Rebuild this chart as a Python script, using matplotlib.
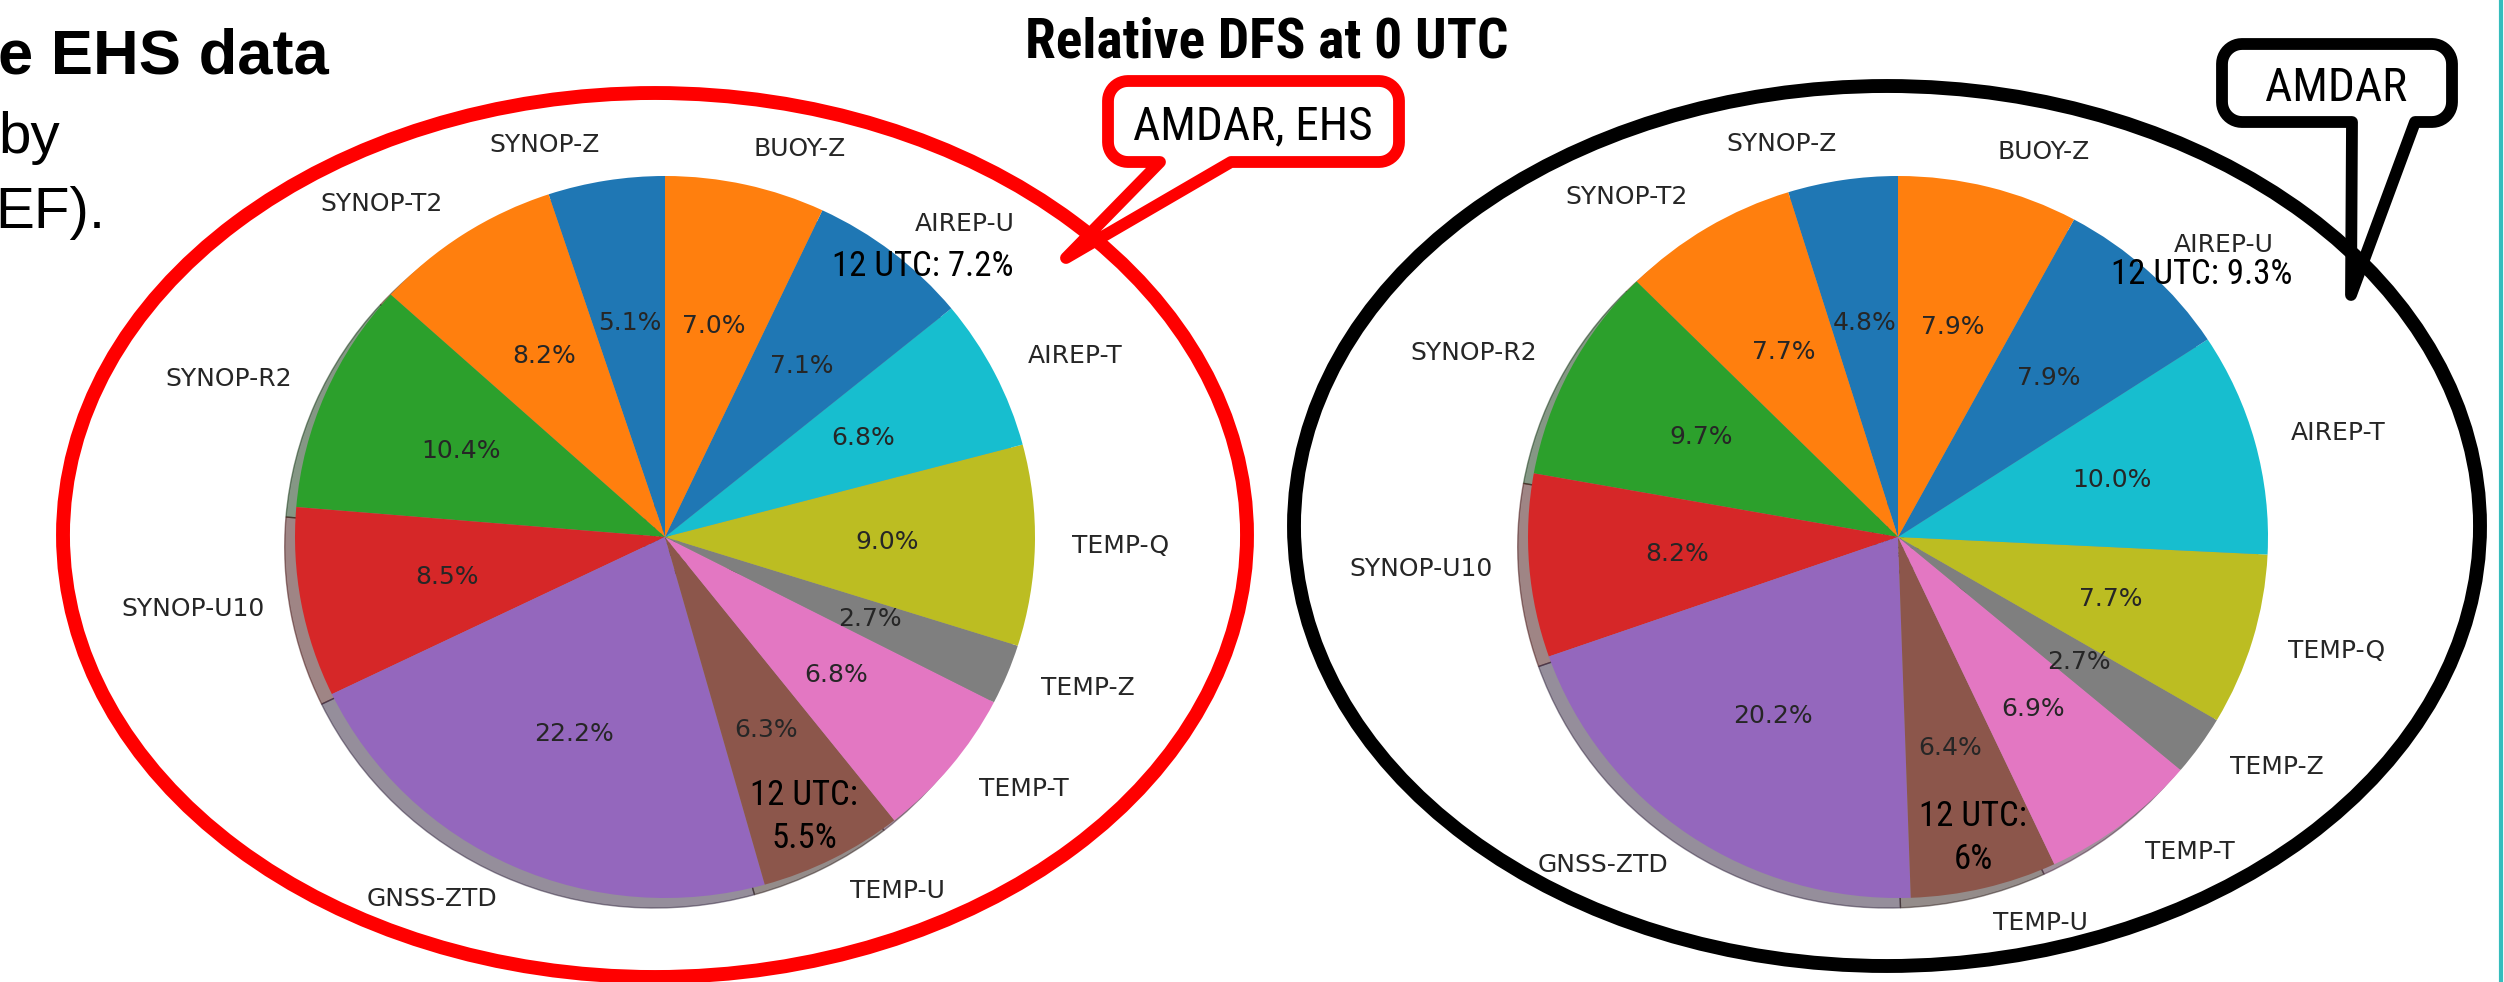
import numpy as np
import matplotlib
matplotlib.use("Agg")
import matplotlib.pyplot as plt
from matplotlib import font_manager
from matplotlib.patches import Ellipse, Polygon

# Observation types, counter-clockwise from 12 o'clock
labels = ['SYNOP-Z', 'SYNOP-T2', 'SYNOP-R2', 'SYNOP-U10', 'GNSS-ZTD', 'TEMP-U',
          'TEMP-T', 'TEMP-Z', 'TEMP-Q', 'AIREP-T', 'AIREP-U', 'BUOY-Z']

# Relative DFS at 0 UTC (%)
dfs_amdar_ehs = [5.1, 8.2, 10.4, 8.5, 22.2, 6.3, 6.8, 2.7, 9.0, 6.8, 7.1, 7.0]
dfs_amdar = [4.8, 7.7, 9.7, 8.2, 20.2, 6.4, 6.9, 2.7, 7.7, 10.0, 7.9, 7.9]

# 12 UTC values written over the pies
utc12_airep_u = ['12 UTC: 7.2%', '12 UTC: 9.3%']
utc12_temp_u = ['12 UTC:\n5.5%', '12 UTC:\n6%']

W, H = 2504, 982
fig = plt.figure(figsize=(W / 100, H / 100), dpi=100)
fig.patch.set_facecolor('white')

ARIAL = ['Liberation Sans', 'DejaVu Sans']
# narrow font for the slide annotations (Arial Narrow look); if none is
# installed use Liberation Sans a bit smaller so the widths stay right
installed = {f.name for f in font_manager.fontManager.ttflist}
narrow = next((n for n in ['Liberation Sans Narrow', 'Arial Narrow', 'Roboto Condensed',
                           'Open Sans Condensed', 'DejaVu Sans Condensed'] if n in installed), None)
if narrow:
    NARROW, k = [narrow, 'Liberation Sans'], 1.0
else:
    NARROW, k = ARIAL, 0.83

RX, RY = 370, 361  # pie radius in pixels (the slide image was squeezed a bit)


def pie_axes(cx, cy):
    w, h = 2.5 * RX, 2.5 * RY
    return fig.add_axes([(cx - w / 2) / W, (H - cy - h / 2) / H, w / W, h / H])


for vals, cx in [(dfs_amdar_ehs, 665), (dfs_amdar, 1898)]:
    ax = pie_axes(cx, 537)
    ax.pie(vals, labels=labels, autopct='%1.1f%%', startangle=90, shadow=True,
           textprops={'fontsize': 18, 'color': '#262626'})
    ax.set_aspect('auto')
    ax.set_xlim(-1.25, 1.25)
    ax.set_ylim(-1.25, 1.25)

# overlay in pixel coordinates (y downwards)
ov = fig.add_axes([0, 0, 1, 1], zorder=10)
ov.set_xlim(0, W)
ov.set_ylim(H, 0)
ov.axis('off')
ov.patch.set_alpha(0)


def callout(x0, y0, x1, y1, a, b, tip, color, r=20, lw=8.5):
    def arc(cx, cy, t0, t1):
        t = np.radians(np.linspace(t0, t1, 12))
        return list(zip(cx + r * np.cos(t), cy + r * np.sin(t)))
    pts = arc(x0 + r, y0 + r, 180, 270) + arc(x1 - r, y0 + r, 270, 360)
    pts += arc(x1 - r, y1 - r, 0, 90)
    pts += [(b, y1), tip, (a, y1)]
    pts += arc(x0 + r, y1 - r, 90, 180)
    ov.add_patch(Polygon(pts, closed=True, facecolor='white', edgecolor=color,
                         lw=lw, joinstyle='round', zorder=1))


callout(1108, 81, 1399, 162, 1160, 1231, (1066, 258), 'red')
callout(2222, 44, 2452, 122, 2352, 2415, (2351, 295), 'black')

ov.add_patch(Ellipse((655, 535), 1184, 884, fill=False, ec='red', lw=10, zorder=2))
ov.add_patch(Ellipse((1887, 526), 1186, 880, fill=False, ec='black', lw=10, zorder=2))

ov.text(1253, 126, 'AMDAR, EHS', fontsize=34 * k, family=NARROW, ha='center', va='center')
ov.text(2336, 88, 'AMDAR', fontsize=34 * k, family=NARROW, ha='center', va='center')

ov.text(1267, 57, 'Relative DFS at 0 UTC', fontsize=40 * k, family=NARROW,
        fontweight='bold', ha='center', va='baseline')

ov.text(923, 266, utc12_airep_u[0], fontsize=25 * k, family=NARROW, ha='center', va='center', zorder=3)
ov.text(2202, 275, utc12_airep_u[1], fontsize=25 * k, family=NARROW, ha='center', va='center', zorder=3)
ov.text(804, 817, utc12_temp_u[0], fontsize=25 * k, family=NARROW, ha='center', va='center',
        multialignment='center', linespacing=1.35 / k, zorder=3)
ov.text(1973, 838, utc12_temp_u[1], fontsize=25 * k, family=NARROW, ha='center', va='center',
        multialignment='center', linespacing=1.35 / k, zorder=3)

# cut-off slide text on the left
ov.text(-2, 73, 'e EHS data', fontsize=45.5, family=ARIAL, fontweight='bold', va='baseline')
ov.text(-2, 153, 'by', fontsize=42, family=ARIAL, va='baseline')
ov.text(-5, 228, 'EF).', fontsize=42, family=ARIAL, va='baseline')

# slide border on the right
ov.plot([2501, 2501], [0, H], color='#35BDBD', lw=3)

fig.savefig('out.png', dpi=100, facecolor='white')
